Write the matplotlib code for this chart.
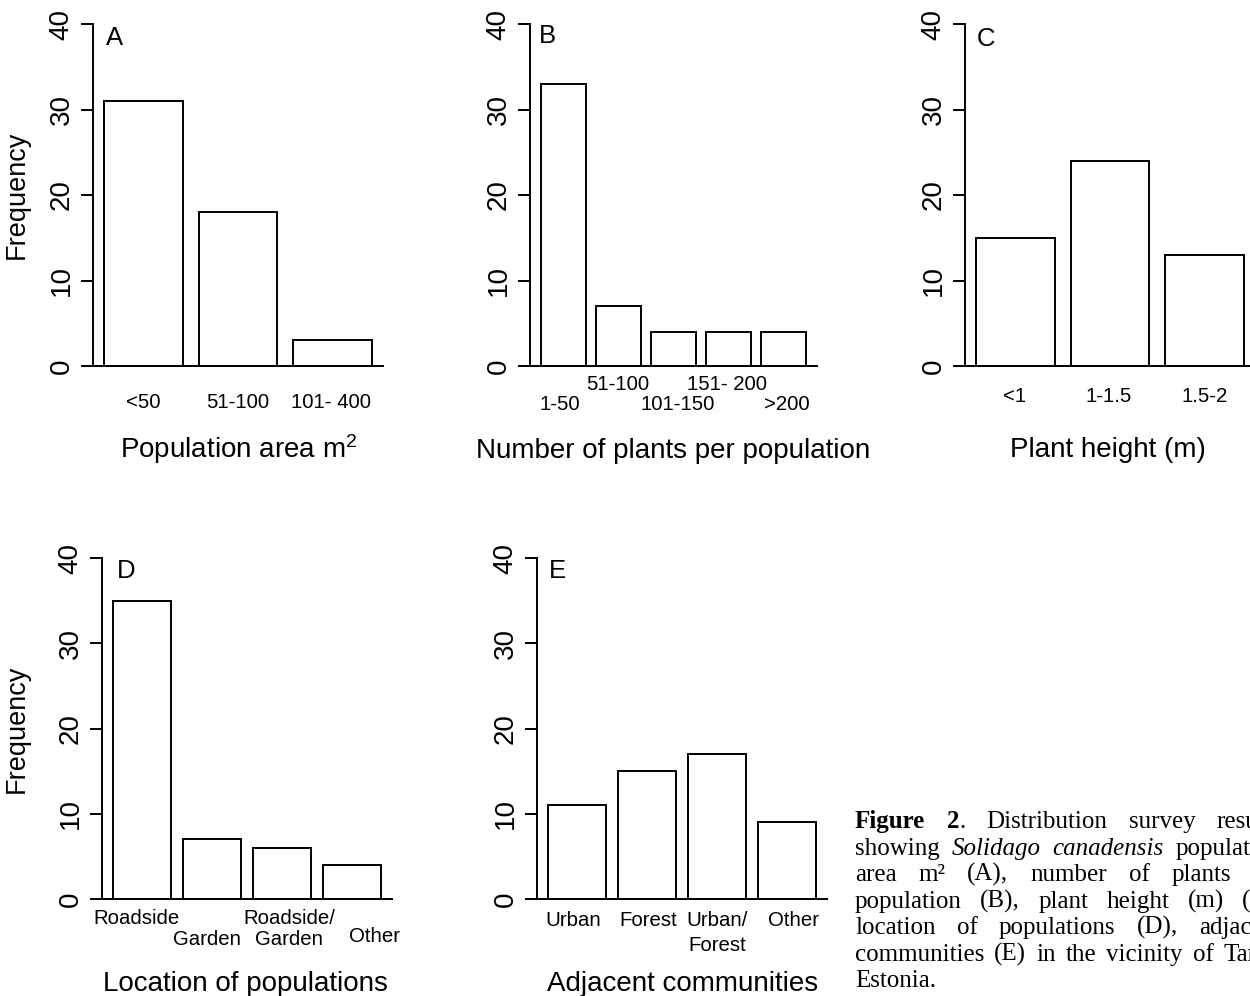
import matplotlib
matplotlib.use("Agg")
import matplotlib.pyplot as plt
from matplotlib.transforms import blended_transform_factory, offset_copy

# ---------------- data ----------------
area_labels = ["<50", "51-100", "101- 400"]
area_freq = [31, 18, 3]

plants_labels = ["1-50", "51-100", "101-150", "151- 200", ">200"]
plants_freq = [33, 7, 4, 4, 4]

height_labels = ["<1", "1-1.5", "1.5-2"]
height_freq = [15, 24, 13]

location_labels = ["Roadside", "Garden", "Roadside/\nGarden", "Other"]
location_freq = [35, 7, 6, 4]

community_labels = ["Urban", "Forest", "Urban/\nForest", "Other"]
community_freq = [11, 15, 17, 9]

yticks = [0, 10, 20, 30, 40]

# ---------------- style ----------------
plt.rcParams['font.family'] = ['Liberation Sans', 'DejaVu Sans']
plt.rcParams['mathtext.fontset'] = 'custom'
plt.rcParams['mathtext.rm'] = 'Liberation Sans'
plt.rcParams['mathtext.it'] = 'Liberation Sans:italic'
plt.rcParams['mathtext.bf'] = 'Liberation Sans:bold'

W, H = 1250, 996
fig = plt.figure(figsize=(W / 100, H / 100), dpi=100)
LW = 1.4


def fx(x):
    return x / W


def fy(y):
    return 1 - y / H


def panel(left, right, y0, y40, labels, freq, letter, letter_pos,
          label_specs, xlabel, xlabel_pos, ylabel=None):
    ax = fig.add_axes([fx(left), fy(y0), (right - left) / W, (y0 - y40) / H])
    n = len(freq)
    centers = [0.7 + 1.2 * i for i in range(n)]
    r = 1.2 * n - 0.2
    ax.bar(centers, freq, width=1.0, color='white', edgecolor='black',
           linewidth=LW, zorder=2, clip_on=False)
    ax.set_xlim(0.2 - 0.04 * r, 1.2 * n + 0.04 * r)
    ax.set_ylim(0, 40)
    for s in ['top', 'right']:
        ax.spines[s].set_visible(False)
    ax.spines['left'].set_linewidth(LW)
    ax.spines['bottom'].set_linewidth(LW)
    ax.set_xticks([])
    ax.set_yticks(yticks)
    ax.tick_params(axis='y', length=8.6, width=LW, labelsize=20, pad=4.5)
    for lab in ax.get_yticklabels():
        lab.set_rotation(90)
        lab.set_va('center')
    ax.patch.set_visible(False)

    trans = blended_transform_factory(ax.transData, fig.transFigure)
    for c, lab, (dx, ys) in zip(centers, labels, label_specs):
        t = offset_copy(trans, fig=fig, x=dx, y=0, units='dots')
        for line, yy in zip(lab.split("\n"), ys):
            ax.text(c, fy(yy), line, transform=t, ha='center', va='center',
                    fontsize=14.7, clip_on=False)

    fig.text(fx(letter_pos[0]), fy(letter_pos[1]), letter, ha='left',
             va='baseline', fontsize=18.5)
    fig.text(fx(xlabel_pos[0]), fy(xlabel_pos[1]), xlabel, ha='center',
             va='baseline', fontsize=20)
    if ylabel:
        fig.text(fx(17), fy((y0 + y40) / 2), ylabel, rotation=90,
                 ha='center', va='center', fontsize=19.5)
    return ax


panel(93, 383, 366, 24, area_labels, area_freq, "A", (106, 45),
      [(0, [403]), (0, [403]), (-2, [403])],
      r"Population area m$^{2}$", (239, 458), ylabel="Frequency")

panel(530, 817, 366, 24, plants_labels, plants_freq, "B", (539, 43),
      [(-4, [405]), (-1, [384]), (4, [405]), (-1, [384]), (3, [405])],
      "Number of plants per population", (673, 458))

panel(965, 1255, 366, 24, height_labels, height_freq, "C", (977, 46),
      [(-1, [396]), (-1, [396]), (0, [396])],
      "Plant height (m)", (1108, 457))

panel(102, 392, 899, 558, location_labels, location_freq, "D", (117, 578),
      [(-5, [918]), (-5, [939]), (7, [918, 939]), (22, [936])],
      "Location of populations", (245, 991), ylabel="Frequency")

panel(537, 827, 899, 558, community_labels, community_freq, "E", (549, 578),
      [(-4, [921]), (1, [921]), (0, [921, 945]), (6, [921])],
      "Adjacent communities", (683, 991))

# ---------------- caption (justified column, cut at the right edge) ----------------
N, B, I = ('normal', 'normal'), ('bold', 'normal'), ('normal', 'italic')
cap_lines = [
    [[("Figure", *B)], [("2", *B), (".", *N)], [("Distribution", *N)],
     [("survey", *N)], [("results", *N)]],
    [[("showing", *N)], [("Solidago", *I)], [("canadensis", *I)],
     [("population", *N)]],
    [[("area", *N)], [("m\u00b2", *N)], [("(A),", *N)], [("number", *N)],
     [("of", *N)], [("plants", *N)], [("for", *N)]],
    [[("population", *N)], [("(B),", *N)], [("plant", *N)], [("height", *N)],
     [("(m)", *N)], [("(C),", *N)]],
    [[("location", *N)], [("of", *N)], [("populations", *N)], [("(D),", *N)],
     [("adjacent", *N)]],
    [[("communities", *N)], [("(E)", *N)], [("in", *N)], [("the", *N)],
     [("vicinity", *N)], [("of", *N)], [("Tartu,", *N)]],
    [[("Estonia.", *N)]],
]
CAP_L, CAP_R, CAP_FS = 855, 1282, 18
renderer = fig.canvas.get_renderer()
for i, words in enumerate(cap_lines):
    yb = 828 + 26.5 * i
    measured = []
    for word in words:
        runs = []
        for s, wt, st in word:
            t = fig.text(0, 0, s, ha='left', va='baseline', fontsize=CAP_FS,
                         family='Liberation Serif', weight=wt, style=st)
            runs.append((t, t.get_window_extent(renderer).width))
        measured.append(runs)
    widths = [sum(w for _, w in runs) for runs in measured]
    last = i == len(cap_lines) - 1
    gap = 6 if (last or len(words) == 1) else (CAP_R - CAP_L - sum(widths)) / (len(words) - 1)
    x = CAP_L
    for runs, w in zip(measured, widths):
        xx = x
        for t, rw in runs:
            t.set_position((fx(xx), fy(yb)))
            xx += rw
        x += w + gap

fig.savefig("out.png", dpi=100)
